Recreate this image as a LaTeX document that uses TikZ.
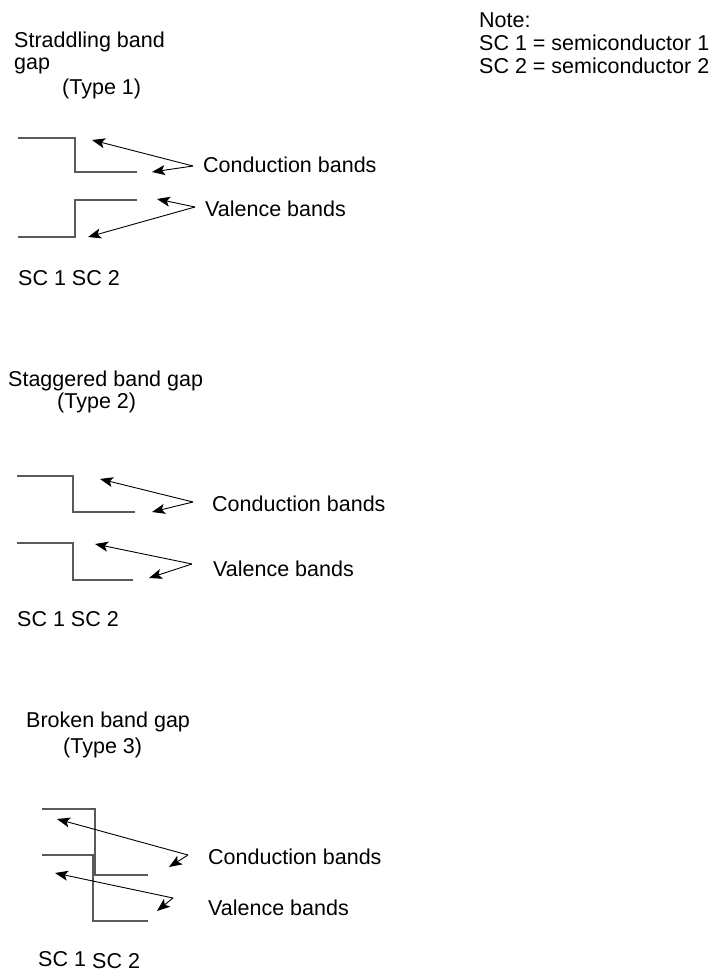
\documentclass[tikz,border=0pt]{standalone}
\usepackage{fontspec}
\setmainfont{Liberation Sans}
\usetikzlibrary{arrows.meta}
\definecolor{bandgray}{RGB}{90,90,90}
\tikzset{
  lbl/.style={anchor=base west, inner sep=0pt, font=\fontsize{21.5}{25}\selectfont},
  band/.style={draw=bandgray, line width=1.4pt},
  ptr/.style={draw=black, line width=0.9pt, -{Stealth[length=13pt,width=10pt,inset=3pt]}}
}
\begin{document}
\begin{tikzpicture}[x=1pt,y=-1pt]
\useasboundingbox (0,0) rectangle (713,972);

% Note
\node[lbl] (note) at (479,27) {Note:};
\node[lbl] (note1) at (479,50) {SC 1 = semiconductor 1};
\node[lbl] (note2) at (479,73) {SC 2 = semiconductor 2};

% ---------- Type 1 ----------
\node[lbl] (t1a) at (14,47) {Straddling band};
\node[lbl] (t1b) at (14,69) {gap};
\node[lbl] (t1c) at (62,94) {(Type 1)};
\draw[band] (18,138) -- (75,138) -- (75,172) -- (137,172);
\draw[band] (18,237) -- (75,237) -- (75,200) -- (137,200);
\node[lbl] (c1) at (203,172) {Conduction bands};
\node[lbl] (v1) at (205,216) {Valence bands};
\coordinate (c1v) at (193,166);
\coordinate (c1a) at (92,140);
\coordinate (c1b) at (152,172);
\coordinate (v1v) at (195,207);
\coordinate (v1a) at (157,199);
\coordinate (v1b) at (88,237);
\draw[ptr] (c1v) -- (c1a);
\draw[ptr] (c1v) -- (c1b);
\draw[ptr] (v1v) -- (v1a);
\draw[ptr] (v1v) -- (v1b);
\node[lbl] (sc1) at (18,285) {SC 1 SC 2};

% ---------- Type 2 ----------
\node[lbl] (t2a) at (8,386) {Staggered band gap};
\node[lbl] (t2c) at (57,408) {(Type 2)};
\draw[band] (17,476) -- (73,476) -- (73,512) -- (135,512);
\draw[band] (17,543) -- (73,543) -- (73,580) -- (133,580);
\node[lbl] (c2) at (212,511) {Conduction bands};
\node[lbl] (v2) at (213,576) {Valence bands};
\coordinate (c2v) at (193,502);
\coordinate (c2a) at (100,479);
\coordinate (c2b) at (152,512);
\coordinate (v2v) at (192,564);
\coordinate (v2a) at (95,544);
\coordinate (v2b) at (149,578);
\draw[ptr] (c2v) -- (c2a);
\draw[ptr] (c2v) -- (c2b);
\draw[ptr] (v2v) -- (v2a);
\draw[ptr] (v2v) -- (v2b);
\node[lbl] (sc2) at (17,626) {SC 1 SC 2};

% ---------- Type 3 ----------
\node[lbl] (t3a) at (26,727) {Broken band gap};
\node[lbl] (t3c) at (63,753) {(Type 3)};
\draw[band] (42,809) -- (95,809) -- (95,875) -- (148,875);
\draw[band] (42,855) -- (93,855) -- (93,921) -- (148,921);
\node[lbl] (c3) at (208,864) {Conduction bands};
\node[lbl] (v3) at (208,915) {Valence bands};
\coordinate (c3v) at (188,855);
\coordinate (c3a) at (57,819);
\coordinate (c3b) at (169,867);
\coordinate (v3v) at (173,898);
\coordinate (v3a) at (55,873);
\coordinate (v3b) at (157,911);
\draw[ptr] (c3v) -- (c3a);
\draw[ptr] (c3v) -- (c3b);
\draw[ptr] (v3v) -- (v3a);
\draw[ptr] (v3v) -- (v3b);
\node[lbl] (sc3a) at (38,966) {SC 1};
\node[lbl] (sc3b) at (92,968) {SC 2};
\end{tikzpicture}
\end{document}
